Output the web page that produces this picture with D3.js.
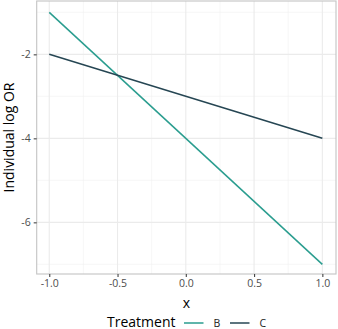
<!DOCTYPE html>
<html lang="en">
  <head>
    <meta charset="utf-8">
    <title>Individual log OR</title>
    <style type="text/css">
      body { margin: 0; background: #fff; }
      text { font-family: "Open Sans", "Noto Sans", sans-serif; }
      .tick text { fill: #4d4d4d; font-size: 10.5px; }
    </style>
    <script type="text/javascript" src="https://cdn.jsdelivr.net/npm/d3@7"></script>
  </head>
  <body>
    <script type="text/javascript">

var w = 338;
var h = 329;

// data
var xs = [-1, 1];
var treatments = ['B', 'C'];
var seriesB = [-1, -7];
var seriesC = [-2, -4];
var colors = ['#2a9d8f', '#264653'];
var xTicks = [-1, -0.5, 0, 0.5, 1];
var xMinor = [-0.75, -0.25, 0.25, 0.75];
var yTicks = [-2, -4, -6];
var yMinor = [-1, -3, -5, -7];

var series = [seriesB, seriesC];

// panel edges (window.top is reserved, so p-prefixed)
var pL = 36.7, pT = 1, pR = 336, pB = 274;

var svg = d3.select('body')
  .append('svg')
  .attr('width', w)
  .attr('height', h);

var x = d3.scaleLinear().domain([-1.092, 1.1]).range([pL, pR]);
var y = d3.scaleLinear().domain([-7.23, -0.73]).range([pB, pT]);

var panel = svg.append('g');

// grid lines
panel.selectAll('line.xminor')
  .data(xMinor).enter().append('line')
  .attr('x1', function(d){return x(d)}).attr('x2', function(d){return x(d)})
  .attr('y1', pT).attr('y2', pB)
  .attr('stroke', '#f2f2f2').attr('stroke-width', 0.6);
panel.selectAll('line.yminor')
  .data(yMinor).enter().append('line')
  .attr('y1', function(d){return y(d)}).attr('y2', function(d){return y(d)})
  .attr('x1', pL).attr('x2', pR)
  .attr('stroke', '#f2f2f2').attr('stroke-width', 0.6);
panel.selectAll('line.xmajor')
  .data(xTicks).enter().append('line')
  .attr('x1', function(d){return x(d)}).attr('x2', function(d){return x(d)})
  .attr('y1', pT).attr('y2', pB)
  .attr('stroke', '#ebebeb').attr('stroke-width', 1.1);
panel.selectAll('line.ymajor')
  .data(yTicks).enter().append('line')
  .attr('y1', function(d){return y(d)}).attr('y2', function(d){return y(d)})
  .attr('x1', pL).attr('x2', pR)
  .attr('stroke', '#ebebeb').attr('stroke-width', 1.1);

// lines
var line = d3.line()
  .x(function(d, i){return x(xs[i])})
  .y(function(d){return y(d)});

panel.selectAll('path.series')
  .data(series).enter().append('path')
  .attr('d', line)
  .attr('fill', 'none')
  .attr('stroke', function(d, i){return colors[i]})
  .attr('stroke-width', 1.5);

// border
panel.append('rect')
  .attr('x', pL).attr('y', pT)
  .attr('width', pR - pL).attr('height', pB - pT)
  .attr('fill', 'none')
  .attr('stroke', '#c4c4c4').attr('stroke-width', 1.1);

// axes
var fmt1 = function(d){return d3.format('.1f')(d).replace('\u2212', '-')};
var fmt0 = function(d){return d3.format('d')(d).replace('\u2212', '-')};

var xAxis = svg.append('g')
  .attr('transform', 'translate(0,' + pB + ')')
  .call(d3.axisBottom(x).tickValues(xTicks).tickFormat(fmt1).tickSize(3).tickPadding(3));
var yAxis = svg.append('g')
  .attr('transform', 'translate(' + pL + ',0)')
  .call(d3.axisLeft(y).tickValues(yTicks).tickFormat(fmt0).tickSize(3).tickPadding(3));

[xAxis, yAxis].forEach(function(a){
  a.select('.domain').remove();
  a.selectAll('.tick line').attr('stroke', '#444').attr('stroke-width', 1.1);
  a.selectAll('.tick text').attr('font-family', null).attr('font-size', null);
});

// titles
svg.append('text')
  .attr('x', (pL + pR) / 2).attr('y', 308)
  .attr('text-anchor', 'middle')
  .attr('font-size', 14).attr('fill', '#000')
  .text('x');

svg.append('text')
  .attr('transform', 'translate(13.5,' + ((pT + pB) / 2) + ') rotate(-90)')
  .attr('text-anchor', 'middle')
  .attr('font-size', 14).attr('fill', '#000')
  .text('Individual log OR');

// legend
var legend = svg.append('g');
legend.append('text')
  .attr('x', 107).attr('y', 326.5)
  .attr('font-size', 14).attr('fill', '#000')
  .text('Treatment');

var keys = legend.selectAll('g.key')
  .data(treatments).enter().append('g')
  .attr('transform', function(d, i){return 'translate(' + (184 + i * 46) + ',0)'});
keys.append('line')
  .attr('x1', 0).attr('x2', 19.5)
  .attr('y1', 323).attr('y2', 323)
  .attr('stroke', function(d, i){return colors[i]})
  .attr('stroke-width', 1.5);
keys.append('text')
  .attr('x', 29.5).attr('y', 326.5)
  .attr('font-size', 10.5).attr('fill', '#1a1a1a')
  .text(function(d){return d});

    </script>
  </body>
</html>
